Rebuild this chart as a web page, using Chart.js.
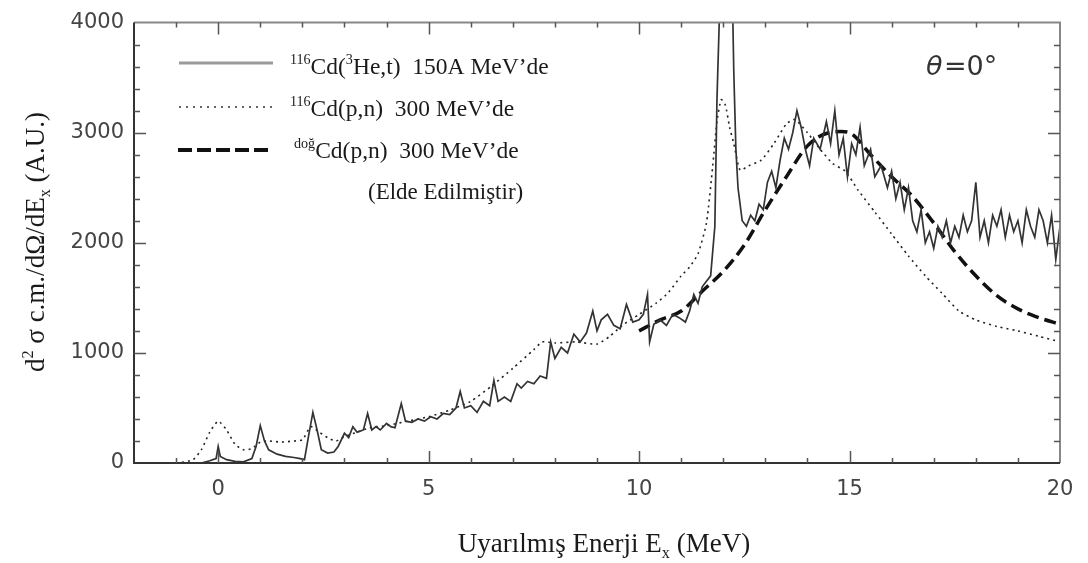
<!DOCTYPE html>
<html>
<head>
<meta charset="utf-8">
<script src="https://cdn.jsdelivr.net/npm/chart.js@4.4.1/dist/chart.umd.min.js"></script>
<style>
    html, body { margin: 0; padding: 0; background: #fff; }
    #wrap { position: relative; width: 1088px; height: 563px; }
</style>
</head>
<body>
<div id="wrap"><canvas id="spectrum-chart"></canvas></div>
<script>
// --- Data (x = excitation energy in MeV, y = A.U.) ---

// 116Cd(3He,t) at 150A MeV (solid)
const heX = [-2.0, -1.0, -0.4, -0.2, -0.05, 0.0, 0.05, 0.2, 0.4, 0.6, 0.8, 0.9, 1.0, 1.1, 1.2, 1.4, 1.6, 1.8, 1.95, 2.05,
    2.15, 2.25, 2.35, 2.45, 2.6, 2.75, 2.85, 3.0, 3.1, 3.2, 3.3, 3.45, 3.55, 3.65, 3.75, 3.85, 4.0, 4.1, 4.2, 4.35,
    4.45, 4.6, 4.75, 4.9, 5.05, 5.2, 5.35, 5.5, 5.65, 5.75, 5.85, 6.0, 6.15, 6.3, 6.45, 6.55, 6.65, 6.8, 6.95, 7.1,
    7.2, 7.35, 7.5, 7.65, 7.8, 7.9, 8.0, 8.15, 8.3, 8.45, 8.6, 8.75, 8.9, 9.0, 9.1, 9.25, 9.4, 9.55, 9.7, 9.85,
    10.0, 10.1, 10.2, 10.25, 10.35, 10.5, 10.65, 10.8, 10.95, 11.1, 11.2, 11.3, 11.4, 11.5, 11.6, 11.7, 11.8, 11.85, 11.95, 12.05,
    12.2, 12.25, 12.3, 12.35, 12.45, 12.55, 12.65, 12.75, 12.85, 12.95, 13.05, 13.15, 13.25, 13.35, 13.45, 13.55, 13.65, 13.75, 13.85, 13.95,
    14.05, 14.15, 14.3, 14.45, 14.55, 14.65, 14.75, 14.85, 14.95, 15.05, 15.15, 15.25, 15.35, 15.5, 15.6, 15.75, 15.9, 16.0, 16.1, 16.2,
    16.3, 16.4, 16.5, 16.6, 16.7, 16.8, 16.9, 17.0, 17.1, 17.2, 17.3, 17.4, 17.5, 17.6, 17.7, 17.8, 17.9, 18.0, 18.1, 18.2,
    18.3, 18.4, 18.5, 18.6, 18.7, 18.8, 18.9, 19.0, 19.1, 19.2, 19.3, 19.4, 19.5, 19.6, 19.7, 19.8, 19.9, 20.0];
const heY = [0, 0, 0, 20, 40, 150, 60, 30, 15, 10, 40, 150, 340, 200, 120, 80, 60, 50, 40, 30,
    250, 460, 300, 120, 90, 100, 150, 270, 230, 330, 280, 300, 450, 300, 330, 300, 360, 330, 320, 540,
    380, 370, 400, 380, 420, 400, 450, 440, 500, 650, 500, 520, 460, 560, 520, 750, 560, 600, 560, 720,
    680, 740, 720, 790, 770, 1100, 950, 1050, 1000, 1170, 1100, 1180, 1380, 1200, 1300, 1350, 1250, 1220, 1440, 1280,
    1300, 1350, 1530, 1100, 1260, 1300, 1250, 1350, 1320, 1280, 1380, 1530, 1450, 1600, 1650, 1700, 2150, 3300, 4600, 4600,
    4600, 3550, 2850, 2500, 2200, 2150, 2250, 2200, 2350, 2300, 2550, 2650, 2500, 2750, 2950, 2850, 3000, 3200, 3050, 2850,
    2700, 2950, 2850, 3100, 2900, 3200, 2800, 2950, 2600, 2900, 2800, 3050, 2700, 2850, 2600, 2700, 2500, 2650, 2400, 2550,
    2300, 2500, 2200, 2100, 2300, 2000, 2100, 1950, 2150, 2050, 2200, 2000, 2150, 2050, 2250, 2100, 2200, 2550, 2050, 2200,
    2000, 2250, 2150, 2300, 2050, 2250, 2100, 2200, 2000, 2300, 2150, 2050, 2300, 2200, 2000, 2250, 1850, 2150];

// 116Cd(p,n) at 300 MeV (dotted)
const pnX = [-2.0, -1.0, -0.6, -0.4, -0.2, 0.0, 0.2, 0.4, 0.6, 0.8, 1.0, 1.2, 1.5, 1.8, 2.0, 2.2, 2.4, 2.6, 2.8, 3.0,
    3.3, 3.6, 4.0, 4.5, 5.0, 5.5, 6.0, 6.5, 7.0, 7.5, 7.7, 8.0, 8.5, 9.0, 9.3, 9.6, 10.0, 10.4, 10.7, 11.0,
    11.2, 11.4, 11.6, 11.75, 11.85, 11.95, 12.05, 12.15, 12.25, 12.4, 12.6, 12.9, 13.2, 13.5, 13.7, 14.0, 14.3, 14.6, 14.9, 15.2,
    15.6, 16.0, 16.4, 16.8, 17.2, 17.6, 18.0, 18.5, 19.0, 19.5, 20.0];
const pnY = [0, 0, 30, 120, 280, 380, 300, 170, 120, 130, 190, 200, 190, 200, 210, 330, 280, 230, 200, 240,
    280, 320, 340, 380, 420, 480, 560, 700, 860, 1030, 1100, 1090, 1100, 1080, 1150, 1250, 1350, 1450, 1550, 1700,
    1780, 1900, 2180, 2700, 3100, 3300, 3250, 3050, 2900, 2660, 2700, 2750, 2900, 3080, 3120, 3000, 2850, 2720, 2650, 2480,
    2280, 2080, 1880, 1700, 1540, 1380, 1300, 1240, 1200, 1150, 1100];

// natCd(p,n) at 300 MeV, derived (dashed)
const natX = [10.0, 10.5, 11.0, 11.5, 12.0, 12.5, 13.0, 13.5, 14.0, 14.5, 14.8, 15.0, 15.5, 16.0, 16.5, 17.0, 17.5, 18.0, 18.5, 19.0, 19.5, 20.0];
const natY = [1200, 1300, 1380, 1560, 1740, 1980, 2300, 2600, 2880, 3000, 3010, 3000, 2800, 2600, 2420, 2180, 1920, 1700, 1520, 1400, 1320, 1260];

// Axis ticks
const xTickLabels = [0, 5, 10, 15, 20];
const yTickLabels = [0, 1000, 2000, 3000, 4000];

const SERIF = '"Liberation Serif", "Times New Roman", serif';
const SANS = '"DejaVu Sans", sans-serif';

function toPoints(xs, ys) {
    return xs.map((x, i) => ({ x: x, y: ys[i] }));
}

// draws a run of text pieces; sup/sub pieces are smaller and shifted
function drawRich(ctx, parts, x, y, size) {
    let cx = x;
    parts.forEach(p => {
        const s = p.sup || p.sub ? size * 0.6 : size;
        ctx.font = s + 'px ' + SERIF;
        const dy = p.sup ? -size * 0.42 : (p.sub ? size * 0.22 : 0);
        ctx.fillText(p.t, cx, y + dy);
        cx += ctx.measureText(p.t).width;
    });
    return cx - x;
}

function richWidth(ctx, parts, size) {
    let w = 0;
    parts.forEach(p => {
        const s = p.sup || p.sub ? size * 0.6 : size;
        ctx.font = s + 'px ' + SERIF;
        w += ctx.measureText(p.t).width;
    });
    return w;
}

const framePlugin = {
    id: 'frameAndLabels',
    afterDatasetsDraw(chart) {
        const ctx = chart.ctx;
        const a = chart.chartArea;
        const xs = chart.scales.x, ys = chart.scales.y;
        ctx.save();
        ctx.lineCap = 'butt';

        // frame
        ctx.lineWidth = 2;
        ctx.strokeStyle = '#888';
        ctx.beginPath();
        ctx.moveTo(a.left, a.top); ctx.lineTo(a.right, a.top); ctx.lineTo(a.right, a.bottom);
        ctx.stroke();
        ctx.strokeStyle = '#333';
        ctx.beginPath();
        ctx.moveTo(a.left, a.top); ctx.lineTo(a.left, a.bottom); ctx.lineTo(a.right, a.bottom);
        ctx.stroke();

        // inward ticks on all four sides
        ctx.lineWidth = 1.5;
        ctx.strokeStyle = '#555';
        for (let v = -1; v < 20; v++) {
            const px = Math.round(xs.getPixelForValue(v)) + 0.5;
            const len = v % 5 === 0 ? 12 : 5;
            ctx.beginPath();
            ctx.moveTo(px, a.bottom); ctx.lineTo(px, a.bottom - len);
            ctx.moveTo(px, a.top); ctx.lineTo(px, a.top + len);
            ctx.stroke();
        }
        for (let v = 200; v < 4000; v += 200) {
            const py = Math.round(ys.getPixelForValue(v)) + 0.5;
            const len = v % 1000 === 0 ? 12 : 6;
            ctx.beginPath();
            ctx.moveTo(a.left, py); ctx.lineTo(a.left + len, py);
            ctx.moveTo(a.right, py); ctx.lineTo(a.right - len, py);
            ctx.stroke();
        }
        ctx.restore();
    },
    afterDraw(chart) {
        const ctx = chart.ctx;
        ctx.save();
        ctx.fillStyle = '#1a1a1a';
        ctx.textBaseline = 'alphabetic';
        ctx.textAlign = 'left';

        // legend samples
        ctx.lineWidth = 3;
        ctx.strokeStyle = '#9a9a9a';
        ctx.beginPath(); ctx.moveTo(179, 63); ctx.lineTo(273, 63); ctx.stroke();
        ctx.lineWidth = 1.5;
        ctx.strokeStyle = '#333';
        ctx.setLineDash([2, 5]);
        ctx.beginPath(); ctx.moveTo(179, 107); ctx.lineTo(273, 107); ctx.stroke();
        ctx.lineWidth = 4;
        ctx.strokeStyle = '#111';
        ctx.setLineDash([14, 5]);
        ctx.beginPath(); ctx.moveTo(178, 150); ctx.lineTo(272, 150); ctx.stroke();
        ctx.setLineDash([]);

        // legend texts
        drawRich(ctx, [{ t: '116', sup: true }, { t: 'Cd(' }, { t: '3', sup: true }, { t: 'He,t)  150A MeV\u2019de' }], 290, 74, 23.5);
        drawRich(ctx, [{ t: '116', sup: true }, { t: 'Cd(p,n)  300 MeV\u2019de' }], 290, 116, 23.5);
        drawRich(ctx, [{ t: 'doğ', sup: true }, { t: 'Cd(p,n)  300 MeV\u2019de' }], 294, 158, 23.5);
        drawRich(ctx, [{ t: '(Elde Edilmiştir)' }], 368, 199, 23);

        // angle label
        ctx.fillStyle = '#333';
        ctx.font = 'italic 27px ' + SANS;
        ctx.fillText('\u03b8', 926, 75);
        ctx.font = '27px ' + SANS;
        ctx.fillText('=0\u00b0', 944, 75);

        // x axis title
        ctx.fillStyle = '#1a1a1a';
        const xParts = [{ t: 'Uyarılmış Enerji E' }, { t: 'x', sub: true }, { t: ' (MeV)' }];
        const xw = richWidth(ctx, xParts, 27);
        drawRich(ctx, xParts, 604 - xw / 2, 552, 27);

        // y axis title (rotated)
        const yParts = [{ t: 'd' }, { t: '2', sup: true }, { t: ' σ c.m./dΩ/dE' }, { t: 'x', sub: true }, { t: ' (A.U.)' }];
        const yw = richWidth(ctx, yParts, 27);
        ctx.translate(44, 242);
        ctx.rotate(-Math.PI / 2);
        drawRich(ctx, yParts, -yw / 2, 0, 27);
        ctx.restore();
    }
};

let spectrumChart = null;

function initializeChart() {
    const ctx = document.getElementById('spectrum-chart')?.getContext('2d');
    if (!ctx) return;

    spectrumChart = new Chart(ctx, {
        type: 'line',
        data: {
            datasets: [
                {
                    label: '116Cd(3He,t) 150A MeV\u2019de',
                    data: toPoints(heX, heY),
                    borderColor: '#333',
                    borderWidth: 1.7,
                    pointRadius: 0,
                    tension: 0
                },
                {
                    label: '116Cd(p,n) 300 MeV\u2019de',
                    data: toPoints(pnX, pnY),
                    borderColor: '#222',
                    borderWidth: 1.6,
                    borderDash: [2, 4],
                    pointRadius: 0,
                    tension: 0.2
                },
                {
                    label: 'doğCd(p,n) 300 MeV\u2019de',
                    data: toPoints(natX, natY),
                    borderColor: '#111',
                    borderWidth: 3.5,
                    borderDash: [12, 6],
                    pointRadius: 0,
                    cubicInterpolationMode: 'monotone'
                }
            ]
        },
        options: {
            responsive: true,
            maintainAspectRatio: false,
            animation: false,
            layout: { padding: { top: 18, right: 28, left: 0, bottom: 0 } },
            plugins: { legend: { display: false }, tooltip: { enabled: false } },
            scales: {
                x: {
                    type: 'linear',
                    min: -2,
                    max: 20,
                    afterFit(s) { s.height = 100; },
                    afterBuildTicks(s) { s.ticks = xTickLabels.map(v => ({ value: v })); },
                    grid: { display: false, drawTicks: false },
                    border: { display: false },
                    ticks: { color: '#444', font: { family: SANS, size: 21 }, padding: 14, maxRotation: 0, callback: v => String(v) }
                },
                y: {
                    type: 'linear',
                    min: 0,
                    max: 4000,
                    afterFit(s) { s.width = 134; },
                    afterBuildTicks(s) { s.ticks = yTickLabels.map(v => ({ value: v })); },
                    grid: { display: false, drawTicks: false },
                    border: { display: false },
                    ticks: { color: '#444', font: { family: SANS, size: 21 }, padding: 10, callback: v => String(v) }
                }
            }
        },
        plugins: [framePlugin]
    });
}

document.addEventListener('DOMContentLoaded', initializeChart);
</script>
</body>
</html>
